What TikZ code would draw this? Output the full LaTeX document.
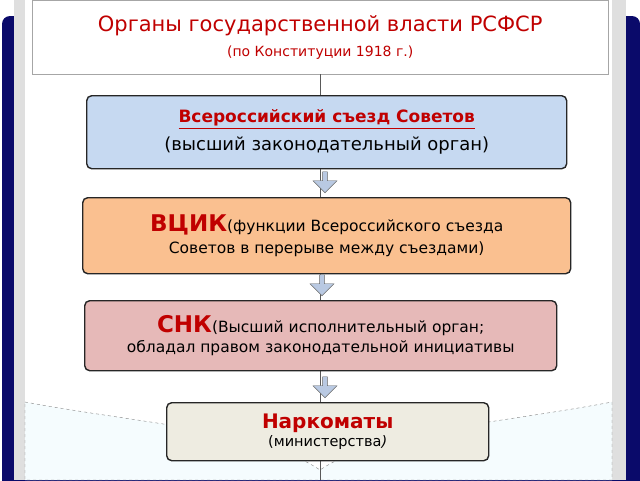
\documentclass[tikz,border=0pt]{standalone}
\usepackage{fontspec}
\setmainfont{DejaVu Sans}
\usetikzlibrary{shapes.arrows}
\definecolor{navy}{HTML}{0A0A6A}
\definecolor{redtxt}{HTML}{C00000}
\definecolor{sezdfill}{HTML}{C6D9F1}
\definecolor{vcikfill}{HTML}{FAC090}
\definecolor{snkfill}{HTML}{E6B9B8}
\definecolor{narkomfill}{HTML}{EEECE1}
\definecolor{flowfill}{HTML}{B9C9E2}
\tikzset{
  organ/.style={draw=black!85, line width=1.4pt, rounded corners=5pt, align=center, anchor=north west, inner sep=2pt},
  flow/.style={single arrow, draw=black!60, fill=flowfill, shape border rotate=270, minimum width=24pt, single arrow head extend=5pt, minimum height=21pt, inner sep=1pt}
}
\begin{document}
\begin{tikzpicture}[x=1pt, y=-1pt]
  \useasboundingbox (0,0) rectangle (640,480);
  % background
  \fill[navy, rounded corners=8pt] (2,16) rectangle (640,490);
  \fill[gray!25] (14,0) rectangle (626,480);
  \fill[white] (25,0) rectangle (612,480);
  \fill[cyan!4, draw=gray, dashed] (25,402) .. controls (150,425) and (260,430) .. (320,470)
      .. controls (380,430) and (490,425) .. (612,402) -- (612,480) -- (25,480) -- cycle;
  % title
  \node[draw=gray!70, fill=white, minimum width=576pt, minimum height=74pt, anchor=north west, align=center,
        text=redtxt, font=\fontsize{21}{25}\selectfont] (title) at (32,0)
    {Органы государственной власти РСФСР\\[0pt]
     {\fontsize{14}{17}\selectfont (по Конституции 1918 г.)}};
  \coordinate (bottom) at (320,480);
  \draw[gray!70!black] (title.south -| 320,0) -- (bottom);
  % organs
  \node[organ, fill=sezdfill, minimum width=480pt, minimum height=73pt,
        font=\fontsize{18}{22}\selectfont] (sezd) at (86,95)
    {\textcolor{redtxt}{\fontsize{17}{20}\selectfont\bfseries\underline{Всероссийский съезд Советов}}\\[6pt]
     (высший законодательный орган)};
  \node[organ, fill=vcikfill, minimum width=488pt, minimum height=76pt,
        font=\fontsize{15.5}{22}\selectfont] (vcik) at (82,197)
    {\textcolor{redtxt}{\fontsize{23}{24}\selectfont\bfseries ВЦИК}(функции Всероссийского съезда\\
     Советов в перерыве между съездами)};
  \node[organ, fill=snkfill, minimum width=472pt, minimum height=70pt,
        font=\fontsize{15.5}{20}\selectfont] (snk) at (84,300)
    {\textcolor{redtxt}{\fontsize{23}{24}\selectfont\bfseries СНК}(Высший исполнительный орган;\\
     обладал правом законодательной инициативы};
  \node[organ, fill=narkomfill, minimum width=322pt, minimum height=58pt,
        font=\fontsize{14.5}{18}\selectfont] (narkom) at (166,402)
    {\textcolor{redtxt}{\fontsize{20}{22}\selectfont\bfseries Наркоматы}\\
     (министерства\textit{)}};
  % arrows
  \node[flow, anchor=tip] (a1) at (325,193) {};
  \node[flow, anchor=tip] (a2) at (322,296) {};
  \node[flow, anchor=tip] (a3) at (325,398) {};
\end{tikzpicture}
\end{document}
